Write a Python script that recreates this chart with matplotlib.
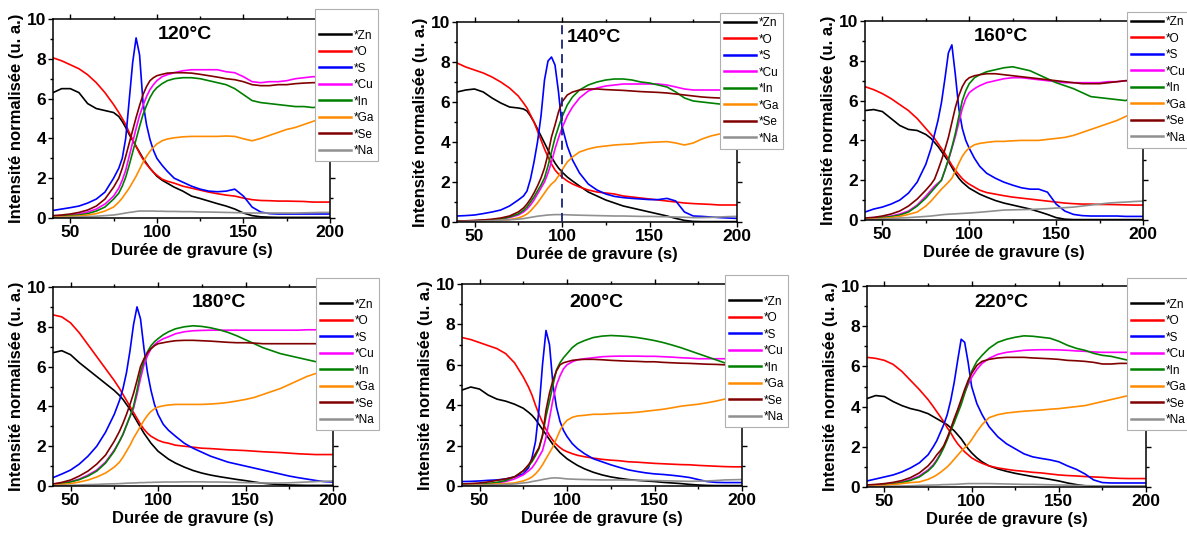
import matplotlib
matplotlib.use("Agg")
import matplotlib.pyplot as plt
from matplotlib.ticker import MultipleLocator

plt.rcParams['font.family'] = ['Liberation Sans', 'DejaVu Sans']

# Time grid (s) shared by all panels
t = [40, 45, 50, 55, 60, 65, 70, 75,
     78, 80, 82, 84, 86, 88, 90, 92, 94, 96, 98,
     100, 103, 106,
     110, 115, 120, 125, 130, 135, 140, 145, 150, 155, 160, 165, 170, 175, 180, 185, 190, 195, 200]

elements = ['*Zn', '*O', '*S', '*Cu', '*In', '*Ga', '*Se', '*Na']
colors = ['#000000', '#ff0000', '#0000ff', '#ff00ff', '#008000', '#ff8c00', '#800000', '#909090']
temperatures = ['120°C', '140°C', '160°C', '180°C', '200°C', '220°C']

# ---------------- 120 °C ----------------
zn_120 = [6.3, 6.5, 6.5, 6.3, 5.75, 5.5, 5.4, 5.3,
          5.1, 4.85, 4.55, 4.2, 3.9, 3.6, 3.3, 3.0, 2.75, 2.5, 2.3,
          2.1, 1.9, 1.75,
          1.55, 1.35, 1.1, 0.98, 0.85, 0.72, 0.6, 0.45, 0.25, 0.12, 0.06, 0.04, 0.03, 0.03, 0.03, 0.03, 0.03, 0.03, 0.03]
o_120 = [8.05, 7.9, 7.7, 7.5, 7.2, 6.8, 6.3, 5.7,
         5.3, 5.0, 4.7, 4.3, 3.95, 3.6, 3.25, 2.95, 2.7, 2.5, 2.3,
         2.15, 1.95, 1.85,
         1.75, 1.6, 1.5, 1.4, 1.3, 1.22, 1.15, 1.1, 1.0, 0.92, 0.88, 0.87, 0.85, 0.85, 0.84, 0.83, 0.8, 0.8, 0.8]
s_120 = [0.38, 0.45, 0.52, 0.6, 0.75, 0.95, 1.3, 2.0,
         2.5, 3.0, 4.0, 5.9, 7.8, 9.05, 8.2, 5.8, 4.7, 3.95, 3.4,
         3.0, 2.65, 2.35,
         2.0, 1.8, 1.6, 1.45, 1.35, 1.32, 1.35, 1.45, 1.1, 0.55, 0.3, 0.22, 0.2, 0.2, 0.2, 0.2, 0.2, 0.2, 0.2]
cu_120 = [0.1, 0.12, 0.15, 0.2, 0.3, 0.45, 0.7, 1.1,
          1.5, 1.9, 2.4, 3.1, 3.8, 4.5, 5.15, 5.65, 6.1, 6.45, 6.7,
          6.9, 7.1, 7.2,
          7.3, 7.4, 7.45, 7.45, 7.45, 7.45, 7.35, 7.3, 7.1, 6.85, 6.8, 6.85, 6.85, 6.9, 7.0, 7.05, 7.1, 7.1, 7.1]
in_120 = [0.08, 0.1, 0.12, 0.15, 0.22, 0.35, 0.55, 0.95,
          1.25, 1.6, 2.05, 2.65, 3.3, 3.95, 4.6, 5.2, 5.65, 6.05, 6.35,
          6.55, 6.75, 6.9,
          7.0, 7.05, 7.05, 7.0, 6.9, 6.8, 6.7, 6.5, 6.2, 5.9, 5.8, 5.75, 5.7, 5.65, 5.6, 5.6, 5.55, 5.6, 5.6]
ga_120 = [0.05, 0.06, 0.08, 0.1, 0.15, 0.22, 0.35, 0.55,
          0.8, 1.0, 1.25, 1.5, 1.8, 2.1, 2.45, 2.8, 3.1, 3.35, 3.55,
          3.72, 3.88, 3.97,
          4.03, 4.08, 4.1, 4.1, 4.1, 4.1, 4.12, 4.1, 3.98, 3.88, 4.0, 4.15, 4.3, 4.45, 4.55, 4.7, 4.85, 5.0, 5.1]
se_120 = [0.12, 0.15, 0.2, 0.28, 0.4, 0.6, 0.95, 1.55,
          2.0, 2.5, 3.1, 3.75, 4.4, 5.05, 5.65, 6.2, 6.6, 6.9, 7.05,
          7.15, 7.22, 7.28,
          7.3, 7.3, 7.28, 7.22, 7.15, 7.08, 7.0, 6.95, 6.85, 6.7, 6.65, 6.65, 6.7, 6.7, 6.75, 6.78, 6.8, 6.8, 6.8]
na_120 = [0.02, 0.03, 0.04, 0.05, 0.07, 0.09, 0.12, 0.15,
          0.19, 0.22, 0.25, 0.28, 0.3, 0.33, 0.35, 0.35, 0.35, 0.35, 0.35,
          0.34, 0.34, 0.33,
          0.33, 0.32, 0.32, 0.3, 0.3, 0.29, 0.28, 0.27, 0.26, 0.25, 0.25, 0.25, 0.25, 0.25, 0.25, 0.26, 0.27, 0.28, 0.28]

# ---------------- 140 °C ----------------
zn_140 = [6.5, 6.6, 6.65, 6.5, 6.2, 5.95, 5.75, 5.7,
          5.65, 5.55, 5.3, 5.0, 4.65, 4.3, 3.95, 3.6, 3.25, 2.95, 2.7,
          2.5, 2.25, 2.05,
          1.8, 1.5, 1.3, 1.1, 0.95, 0.8, 0.7, 0.6, 0.5, 0.4, 0.3, 0.18, 0.08, 0.03, 0.02, 0.02, 0.02, 0.02, 0.02]
o_140 = [7.95, 7.75, 7.6, 7.45, 7.25, 7.0, 6.7, 6.3,
         5.95, 5.7, 5.35, 5.0, 4.55, 4.1, 3.65, 3.25, 2.9, 2.6, 2.4,
         2.25, 2.05, 1.9,
         1.75, 1.6, 1.5, 1.45, 1.4, 1.3, 1.25, 1.2, 1.15, 1.1, 1.05, 1.0, 0.95, 0.92, 0.9, 0.88, 0.85, 0.85, 0.85]
s_140 = [0.3, 0.32, 0.35, 0.42, 0.5, 0.6, 0.8, 1.1,
         1.3, 1.55, 2.15, 3.0, 4.0, 5.3, 7.1, 8.05, 8.25, 7.85, 6.5,
         4.8, 3.8, 3.1,
         2.45, 1.9, 1.6, 1.4, 1.28, 1.22, 1.18, 1.15, 1.12, 1.12, 1.18, 1.05, 0.5, 0.3, 0.28, 0.25, 0.22, 0.2, 0.18]
cu_140 = [0.04, 0.05, 0.06, 0.08, 0.1, 0.15, 0.22, 0.35,
          0.5, 0.65, 0.85, 1.1, 1.4, 1.7, 2.0, 2.45, 3.0, 3.65, 4.2,
          4.7, 5.3, 5.75,
          6.2, 6.55, 6.7, 6.8, 6.85, 6.9, 6.9, 6.9, 6.9, 6.9, 6.85, 6.75, 6.65, 6.6, 6.6, 6.6, 6.6, 6.6, 6.6]
in_140 = [0.04, 0.05, 0.06, 0.08, 0.11, 0.16, 0.25, 0.4,
          0.58, 0.75, 1.0, 1.25, 1.55, 1.85, 2.2, 2.8, 3.5, 4.2, 4.75,
          5.25, 5.85, 6.25,
          6.6, 6.85, 7.0, 7.1, 7.15, 7.15, 7.1, 7.0, 6.95, 6.85, 6.75, 6.5, 6.2, 6.05, 6.0, 5.95, 5.9, 5.9, 5.9]
ga_140 = [0.02, 0.03, 0.04, 0.05, 0.06, 0.08, 0.12, 0.2,
          0.3, 0.4, 0.55, 0.75, 0.95, 1.2, 1.45, 1.7, 1.9, 2.05, 2.3,
          2.6, 3.0, 3.25,
          3.5, 3.65, 3.75, 3.8, 3.85, 3.88, 3.9, 3.95, 3.98, 4.0, 4.02, 3.95, 3.85, 3.95, 4.15, 4.3, 4.4, 4.45, 4.5]
se_140 = [0.05, 0.06, 0.08, 0.1, 0.14, 0.2, 0.3, 0.5,
          0.7, 0.9, 1.15, 1.45, 1.8, 2.2, 2.7, 3.4, 4.25, 4.85, 5.5,
          6.0, 6.35, 6.5,
          6.6, 6.65, 6.65, 6.62, 6.6, 6.58, 6.55, 6.52, 6.5, 6.48, 6.45, 6.4, 6.35, 6.3, 6.25, 6.22, 6.2, 6.2, 6.2]
na_140 = [0.02, 0.03, 0.04, 0.05, 0.07, 0.09, 0.11, 0.14,
          0.17, 0.2, 0.23, 0.26, 0.29, 0.31, 0.33, 0.35, 0.36, 0.37, 0.37,
          0.37, 0.36, 0.35,
          0.34, 0.33, 0.32, 0.31, 0.3, 0.3, 0.29, 0.28, 0.28, 0.27, 0.26, 0.25, 0.24, 0.22, 0.22, 0.23, 0.25, 0.27, 0.28]

# ---------------- 160 °C ----------------
zn_160 = [5.5, 5.55, 5.45, 5.1, 4.75, 4.55, 4.5, 4.3,
          4.1, 3.9, 3.7, 3.45, 3.2, 2.95, 2.65, 2.35, 2.1, 1.9, 1.75,
          1.6, 1.45, 1.3,
          1.15, 0.98, 0.85, 0.75, 0.65, 0.55, 0.42, 0.28, 0.12, 0.04, 0.02, 0.02, 0.02, 0.02, 0.02, 0.02, 0.02, 0.02, 0.02]
o_160 = [6.7, 6.55, 6.35, 6.1, 5.8, 5.5, 5.1, 4.6,
         4.3, 4.1, 3.85, 3.6, 3.35, 3.05, 2.75, 2.5, 2.28, 2.08, 1.92,
         1.8, 1.65, 1.5,
         1.38, 1.3, 1.22, 1.15, 1.1, 1.05, 1.0, 0.95, 0.9, 0.85, 0.82, 0.8, 0.8, 0.78, 0.78, 0.77, 0.76, 0.75, 0.75]
s_160 = [0.4, 0.55, 0.65, 0.8, 1.0, 1.35, 1.9, 2.8,
         3.6, 4.3, 5.0, 5.9, 7.1, 8.4, 8.8, 7.3, 5.6, 4.6, 4.0,
         3.6, 3.1, 2.7,
         2.35, 2.1, 1.9, 1.75, 1.62, 1.55, 1.55, 1.4, 0.8, 0.45, 0.28, 0.22, 0.2, 0.2, 0.2, 0.2, 0.18, 0.18, 0.18]
cu_160 = [0.1, 0.12, 0.15, 0.2, 0.3, 0.45, 0.75, 1.2,
          1.5, 1.7, 1.85, 2.0, 2.5, 3.0, 3.6, 4.2, 4.9, 5.6, 6.1,
          6.4, 6.6, 6.75,
          6.9, 7.0, 7.1, 7.15, 7.15, 7.1, 7.05, 7.0, 6.95, 6.9, 6.9, 6.9, 6.9, 6.9, 6.95, 6.95, 7.0, 7.0, 7.0]
in_160 = [0.08, 0.1, 0.12, 0.17, 0.25, 0.4, 0.7, 1.1,
          1.4, 1.6, 1.8, 2.0, 2.5, 3.05, 3.65, 4.35, 5.2, 6.0, 6.5,
          6.85, 7.15, 7.3,
          7.45, 7.55, 7.65, 7.7, 7.6, 7.5, 7.3, 7.1, 6.9, 6.75, 6.6, 6.4, 6.2, 6.15, 6.1, 6.05, 6.0, 6.2, 6.4]
ga_160 = [0.05, 0.06, 0.08, 0.12, 0.18, 0.28, 0.4, 0.7,
          0.95, 1.15, 1.35, 1.55, 1.72, 1.9, 2.1, 2.45, 2.85, 3.2, 3.45,
          3.62, 3.78, 3.85,
          3.9, 3.95, 3.95, 3.98, 4.0, 4.0, 4.0, 4.05, 4.1, 4.15, 4.25, 4.4, 4.55, 4.7, 4.85, 5.0, 5.2, 5.4, 5.6]
se_160 = [0.1, 0.13, 0.2, 0.3, 0.45, 0.7, 1.05, 1.5,
          1.8, 2.05, 2.5, 3.0, 3.55, 4.15, 4.9, 5.65, 6.25, 6.7, 7.0,
          7.15, 7.25, 7.3,
          7.35, 7.35, 7.3, 7.25, 7.2, 7.15, 7.1, 7.05, 7.0, 6.95, 6.9, 6.85, 6.85, 6.85, 6.9, 6.95, 7.0, 7.0, 7.0]
na_160 = [0.02, 0.03, 0.05, 0.07, 0.1, 0.12, 0.15, 0.18,
          0.2, 0.22, 0.24, 0.26, 0.28, 0.29, 0.3, 0.31, 0.32, 0.33, 0.34,
          0.35, 0.37, 0.39,
          0.42, 0.46, 0.5, 0.51, 0.52, 0.53, 0.55, 0.57, 0.6, 0.62, 0.65, 0.7, 0.75, 0.8, 0.85, 0.88, 0.9, 0.93, 0.95]

# ---------------- 180 °C ----------------
zn_180 = [6.7, 6.8, 6.6, 6.2, 5.85, 5.5, 5.15, 4.8,
          4.55, 4.35, 4.1, 3.85, 3.55, 3.25, 2.95, 2.65, 2.4, 2.15, 1.95,
          1.75, 1.55, 1.35,
          1.15, 0.95, 0.78, 0.65, 0.55, 0.47, 0.4, 0.33, 0.27, 0.2, 0.14, 0.1, 0.07, 0.05, 0.04, 0.03, 0.03, 0.03, 0.03]
o_180 = [8.6, 8.5, 8.2, 7.7, 7.1, 6.5, 5.9, 5.3,
         4.9, 4.6, 4.3, 4.0, 3.7, 3.4, 3.1, 2.85, 2.65, 2.5, 2.4,
         2.3, 2.2, 2.15,
         2.05, 2.0, 1.95, 1.9, 1.88, 1.85, 1.82, 1.8, 1.78, 1.75, 1.72, 1.7, 1.68, 1.65, 1.62, 1.6, 1.58, 1.58, 1.58]
s_180 = [0.42, 0.6, 0.8, 1.1, 1.5, 2.0, 2.7, 3.6,
         4.3, 4.9, 5.7, 6.8, 8.1, 9.0, 8.4, 6.9, 5.7, 4.8, 4.1,
         3.6, 3.1, 2.8,
         2.5, 2.15, 1.9, 1.7, 1.5, 1.35, 1.2, 1.1, 1.0, 0.9, 0.8, 0.7, 0.6, 0.5, 0.42, 0.35, 0.28, 0.22, 0.2]
cu_180 = [0.1, 0.15, 0.22, 0.35, 0.55, 0.8, 1.2, 1.8,
          2.25, 2.6, 3.05, 3.5, 3.9, 4.6, 5.4, 6.1, 6.55, 6.9, 7.1,
          7.25, 7.4, 7.5,
          7.65, 7.75, 7.8, 7.82, 7.83, 7.83, 7.83, 7.83, 7.83, 7.83, 7.83, 7.83, 7.83, 7.83, 7.83, 7.85, 7.85, 7.85, 7.85]
in_180 = [0.08, 0.12, 0.2, 0.32, 0.5, 0.75, 1.15, 1.75,
          2.25, 2.6, 3.05, 3.5, 4.0, 4.8, 5.7, 6.3, 6.75, 7.05, 7.25,
          7.4, 7.6, 7.75,
          7.9, 8.0, 8.05, 8.02, 7.95, 7.85, 7.72, 7.55, 7.35, 7.15, 6.95, 6.8, 6.65, 6.55, 6.45, 6.35, 6.25, 6.2, 6.15]
ga_180 = [0.05, 0.08, 0.12, 0.2, 0.3, 0.45, 0.65, 0.95,
          1.2, 1.45, 1.75, 2.05, 2.4, 2.7, 3.0, 3.3, 3.55, 3.75, 3.88,
          3.97, 4.03, 4.07,
          4.1, 4.1, 4.1, 4.1, 4.12, 4.15, 4.2, 4.27, 4.35, 4.45, 4.6, 4.75, 4.9, 5.1, 5.3, 5.5, 5.65, 5.75, 5.85]
se_180 = [0.1, 0.18, 0.3, 0.5, 0.75, 1.1, 1.55, 2.25,
          2.75, 3.15, 3.6, 4.1, 4.65, 5.3, 6.0, 6.4, 6.7, 6.9, 7.05,
          7.15, 7.2, 7.25,
          7.3, 7.32, 7.32, 7.3, 7.28, 7.25, 7.22, 7.2, 7.2, 7.18, 7.15, 7.15, 7.15, 7.15, 7.15, 7.15, 7.15, 7.15, 7.15]
na_180 = [0.02, 0.03, 0.04, 0.05, 0.07, 0.08, 0.1, 0.11,
          0.12, 0.13, 0.14, 0.15, 0.15, 0.16, 0.17, 0.17, 0.18, 0.18, 0.19,
          0.19, 0.2, 0.2,
          0.2, 0.21, 0.21, 0.21, 0.2, 0.2, 0.19, 0.18, 0.17, 0.16, 0.15, 0.15, 0.15, 0.16, 0.18, 0.2, 0.22, 0.24, 0.25]

# ---------------- 200 °C ----------------
zn_200 = [4.75, 4.9, 4.8, 4.5, 4.3, 4.2, 4.05, 3.85,
          3.65, 3.5, 3.3, 3.05, 2.8, 2.55, 2.3, 2.05, 1.85, 1.65, 1.5,
          1.35, 1.18, 1.02,
          0.85, 0.68, 0.55, 0.45, 0.38, 0.32, 0.28, 0.25, 0.22, 0.18, 0.15, 0.12, 0.08, 0.05, 0.03, 0.02, 0.02, 0.02, 0.02]
o_200 = [7.35, 7.25, 7.1, 6.95, 6.8, 6.55, 6.1, 5.4,
         4.9, 4.5, 4.0, 3.55, 3.15, 2.8, 2.5, 2.25, 2.05, 1.9, 1.78,
         1.7, 1.6, 1.52,
         1.45, 1.38, 1.32, 1.28, 1.25, 1.2, 1.18, 1.15, 1.12, 1.1, 1.08, 1.06, 1.05, 1.02, 1.0, 0.98, 0.96, 0.95, 0.95]
s_200 = [0.22, 0.23, 0.25, 0.28, 0.3, 0.35, 0.45, 0.6,
         0.9, 1.4, 2.2, 3.8, 6.0, 7.7, 7.0, 5.0, 3.9, 3.2, 2.75,
         2.45, 2.1, 1.85,
         1.6, 1.35, 1.2, 1.05, 0.92, 0.8, 0.72, 0.65, 0.6, 0.57, 0.53, 0.48, 0.42, 0.32, 0.22, 0.18, 0.17, 0.17, 0.17]
cu_200 = [0.05, 0.06, 0.08, 0.1, 0.15, 0.22, 0.35, 0.55,
          0.75, 0.9, 1.15, 1.45, 1.75, 2.4, 3.35, 4.3, 5.0, 5.45, 5.8,
          6.0, 6.15, 6.25,
          6.3, 6.35, 6.4, 6.42, 6.43, 6.43, 6.43, 6.42, 6.42, 6.4, 6.38, 6.35, 6.33, 6.3, 6.3, 6.3, 6.3, 6.3, 6.3]
in_200 = [0.05, 0.06, 0.08, 0.12, 0.18, 0.27, 0.45, 0.75,
          1.0, 1.2, 1.5, 1.85, 2.5, 3.45, 4.2, 5.0, 5.75, 6.1, 6.35,
          6.55, 6.85, 7.05,
          7.2, 7.35, 7.42, 7.45, 7.43, 7.4, 7.35, 7.28, 7.2, 7.1, 6.98, 6.85, 6.7, 6.55, 6.4, 6.25, 6.1, 6.05, 6.0]
ga_200 = [0.03, 0.04, 0.05, 0.07, 0.1, 0.12, 0.15, 0.25,
          0.35, 0.45, 0.6, 0.8, 1.05, 1.35, 1.65, 1.95, 2.35, 2.75, 3.05,
          3.25, 3.4, 3.47,
          3.5, 3.55, 3.55, 3.58, 3.6, 3.62, 3.65, 3.7, 3.75, 3.8, 3.87, 3.95, 4.0, 4.05, 4.12, 4.2, 4.3, 4.4, 4.45]
se_200 = [0.1, 0.12, 0.15, 0.2, 0.28, 0.35, 0.45, 0.75,
          1.05, 1.3, 1.6, 1.9, 2.5, 3.75, 4.6, 5.25, 5.7, 6.0, 6.1,
          6.15, 6.22, 6.25,
          6.27, 6.27, 6.25, 6.22, 6.2, 6.18, 6.17, 6.15, 6.15, 6.12, 6.1, 6.08, 6.07, 6.05, 6.03, 6.02, 6.0, 6.0, 6.0]
na_200 = [0.02, 0.03, 0.04, 0.05, 0.06, 0.08, 0.1, 0.15,
          0.18, 0.22, 0.25, 0.28, 0.32, 0.35, 0.38, 0.4, 0.4, 0.39, 0.37,
          0.35, 0.34, 0.33,
          0.32, 0.31, 0.3, 0.3, 0.3, 0.29, 0.28, 0.28, 0.27, 0.26, 0.25, 0.24, 0.23, 0.24, 0.25, 0.27, 0.3, 0.31, 0.32]

# ---------------- 220 °C ----------------
zn_220 = [4.4, 4.55, 4.5, 4.25, 4.05, 3.9, 3.8, 3.65,
          3.5, 3.4, 3.3, 3.2, 3.1, 2.95, 2.8, 2.6, 2.4, 2.15, 1.9,
          1.7, 1.45, 1.25,
          1.05, 0.9, 0.78, 0.68, 0.6, 0.52, 0.45, 0.38, 0.3, 0.2, 0.12, 0.06, 0.04, 0.03, 0.03, 0.03, 0.03, 0.03, 0.03]
o_220 = [6.45, 6.4, 6.3, 6.1, 5.75, 5.3, 4.85, 4.35,
         4.0, 3.75, 3.5, 3.25, 2.95, 2.7, 2.4, 2.15, 1.95, 1.75, 1.6,
         1.45, 1.3, 1.18,
         1.05, 0.95, 0.88, 0.82, 0.78, 0.73, 0.7, 0.65, 0.6, 0.57, 0.55, 0.52, 0.5, 0.48, 0.45, 0.43, 0.42, 0.42, 0.42]
s_220 = [0.3, 0.4, 0.5, 0.6, 0.75, 0.95, 1.2, 1.6,
         2.0, 2.3, 2.7, 3.1, 3.6, 4.3, 5.2, 6.3, 7.35, 7.2, 6.2,
         5.0, 4.15, 3.6,
         3.0, 2.5, 2.15, 1.9, 1.65, 1.5, 1.42, 1.35, 1.25, 1.05, 0.88, 0.65, 0.35, 0.22, 0.2, 0.2, 0.2, 0.2, 0.2]
cu_220 = [0.08, 0.1, 0.12, 0.17, 0.25, 0.37, 0.55, 0.85,
          1.1, 1.35, 1.65, 2.0, 2.4, 2.85, 3.3, 3.8, 4.25, 4.7, 5.1,
          5.45, 5.85, 6.15,
          6.4, 6.6, 6.7, 6.75, 6.8, 6.82, 6.83, 6.83, 6.82, 6.8, 6.77, 6.75, 6.72, 6.7, 6.7, 6.7, 6.7, 6.7, 6.7]
in_220 = [0.07, 0.08, 0.1, 0.15, 0.22, 0.33, 0.5, 0.8,
          1.05, 1.3, 1.6, 1.95, 2.35, 2.8, 3.2, 3.65, 4.1, 4.65, 5.2,
          5.75, 6.25, 6.55,
          6.9, 7.2, 7.35, 7.45, 7.52, 7.5, 7.45, 7.4, 7.25, 7.05, 6.9, 6.8, 6.65, 6.55, 6.5, 6.4, 6.3, 6.25, 6.2]
ga_220 = [0.05, 0.06, 0.08, 0.12, 0.17, 0.22, 0.25, 0.38,
          0.5, 0.6, 0.72, 0.86, 1.0, 1.18, 1.38, 1.58, 1.78, 1.95, 2.12,
          2.35, 2.75, 3.1,
          3.45, 3.6, 3.68, 3.73, 3.77, 3.8, 3.83, 3.87, 3.9, 3.95, 4.0, 4.05, 4.15, 4.25, 4.35, 4.45, 4.55, 4.65, 4.75]
se_220 = [0.1, 0.13, 0.17, 0.23, 0.32, 0.47, 0.7, 1.05,
          1.35, 1.6, 1.8, 2.05, 2.45, 2.9, 3.4, 3.85, 4.35, 4.85, 5.3,
          5.65, 6.05, 6.25,
          6.35, 6.42, 6.45, 6.45, 6.45, 6.42, 6.4, 6.38, 6.35, 6.3, 6.28, 6.25, 6.2, 6.12, 6.12, 6.15, 6.15, 6.15, 6.15]
na_220 = [0.02, 0.02, 0.03, 0.04, 0.05, 0.06, 0.08, 0.09,
          0.1, 0.1, 0.11, 0.12, 0.12, 0.13, 0.13, 0.14, 0.15, 0.16, 0.17,
          0.17, 0.17, 0.17,
          0.17, 0.16, 0.15, 0.14, 0.13, 0.13, 0.12, 0.11, 0.1, 0.09, 0.08, 0.07, 0.06, 0.05, 0.05, 0.05, 0.05, 0.05, 0.05]

series = [
    [zn_120, o_120, s_120, cu_120, in_120, ga_120, se_120, na_120],
    [zn_140, o_140, s_140, cu_140, in_140, ga_140, se_140, na_140],
    [zn_160, o_160, s_160, cu_160, in_160, ga_160, se_160, na_160],
    [zn_180, o_180, s_180, cu_180, in_180, ga_180, se_180, na_180],
    [zn_200, o_200, s_200, cu_200, in_200, ga_200, se_200, na_200],
    [zn_220, o_220, s_220, cu_220, in_220, ga_220, se_220, na_220],
]
for pi, grp in enumerate(series):
    for si, arr in enumerate(grp):
        if len(arr) != len(t):
            raise ValueError(f"panel {pi} series {si} has {len(arr)} values")

# ---- layout (pixel boxes measured on the reference) ----
W, H = 1187, 534
axes_px = [(53, 19, 330, 218), (457, 22, 737, 222), (865, 21, 1143, 220),
           (53, 287, 333, 486), (462, 284, 742, 486), (867, 286, 1146, 487)]
legend_px = [(315, 9), (720, 13), (1127, 12), (316, 278), (725, 275), (1127, 278)]
legend_gap = [True, False, False, True, True, True]
title_pos = [(116, 9.2, 'center'), (102.5, 9.2, 'left'), (118.5, 9.2, 'center'),
             (135, 9.2, 'center'), (117, 9.1, 'center'), (117, 9.2, 'center')]

fig = plt.figure(figsize=(W / 100, H / 100), dpi=100)

for i in range(6):
    x0, y0, x1, y1 = axes_px[i]
    ax = fig.add_axes([x0 / W, 1 - y1 / H, (x1 - x0) / W, (y1 - y0) / H])
    handles = []
    for lab, col, arr in zip(elements, colors, series[i]):
        h, = ax.plot(t, arr, color=col, lw=1.2, label=lab)
        handles.append(h)
    if i == 1:
        ax.axvline(100, color='#1a237e', lw=1.3, ls=(0, (5, 3)), zorder=3)
    ax.set_xlim(40, 200)
    ax.set_ylim(0, 10)
    ax.xaxis.set_major_locator(MultipleLocator(50))
    ax.xaxis.set_minor_locator(MultipleLocator(25))
    ax.yaxis.set_major_locator(MultipleLocator(2))
    ax.yaxis.set_minor_locator(MultipleLocator(1))
    ax.tick_params(which='both', direction='out', top=True, right=True,
                   labeltop=False, labelright=False, width=1.0)
    ax.tick_params(which='major', length=3.5, labelsize=12.5, pad=1.5)
    ax.tick_params(which='minor', length=2.5)
    for lbl in ax.get_xticklabels() + ax.get_yticklabels():
        lbl.set_fontweight('bold')
    for sp in ax.spines.values():
        sp.set_linewidth(1.1)
    ax.set_xlabel('Durée de gravure (s)', fontsize=12, fontweight='bold', labelpad=2)
    ax.set_ylabel('Intensité normalisée (u. a.)', fontsize=12, fontweight='bold', labelpad=2)
    tx, ty, ha = title_pos[i]
    ax.text(tx, ty, temperatures[i], fontsize=14, fontweight='bold', ha=ha, va='center')

    lx, ly = legend_px[i]
    leg = ax.legend(handles=handles, loc='upper left',
                    bbox_to_anchor=(lx / W, 1 - ly / H), bbox_transform=fig.transFigure,
                    fontsize=8.5, frameon=True, fancybox=False, framealpha=1,
                    edgecolor='#b0b0b0', handlelength=2.7, handletextpad=0.2,
                    labelspacing=0.38, borderpad=0.35, borderaxespad=0,
                    title=' ' if legend_gap[i] else None, title_fontsize=9)
    leg.get_frame().set_linewidth(0.8)
    for ln in leg.get_lines():
        ln.set_linewidth(1.8)

fig.savefig('out.png', dpi=100)
